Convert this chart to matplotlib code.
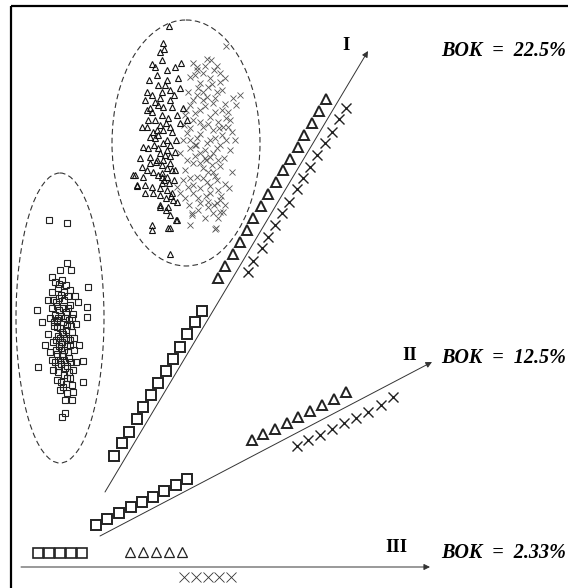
import matplotlib.pyplot as plt
from matplotlib.patches import Ellipse

# left cloud of squares
sq_cloud_x = [49, 67, 67, 52, 60, 71, 88, 37, 42, 87, 87, 38, 83, 83, 53, 63, 72, 62, 65, 57, 79, 45,
              55, 62, 58, 66, 70, 52, 61, 75, 48, 56, 64, 70, 78, 52, 59, 66, 73, 50, 57, 63, 69, 76,
              54, 60, 66, 72, 48, 58, 64, 70, 53, 61, 67, 74, 50, 57, 63, 69, 55, 61, 67, 73, 58, 64,
              70, 61, 65, 59, 68, 55, 62, 68, 60, 65, 76, 72, 60, 67, 56, 71, 63, 57, 74, 52, 66, 69,
              62, 58, 59, 64, 57, 68, 61, 54, 67, 63, 59, 66, 70, 56, 62, 71, 58, 64, 67, 61, 73, 65,
              53, 72, 60, 64]
sq_cloud_y = [220, 223, 263, 277, 270, 270, 287, 310, 322, 307, 317, 367, 361, 382, 370, 387, 400, 417, 413, 380, 345, 345,
              282, 280, 288, 285, 290, 292, 295, 296, 300, 302, 300, 305, 302, 308, 310, 312, 314, 318, 320, 322, 320, 324,
              326, 328, 330, 332, 334, 336, 338, 340, 342, 344, 346, 350, 352, 354, 356, 358, 362, 364, 366, 370, 372, 375,
              378, 348, 318, 298, 296, 315, 332, 352, 360, 368, 362, 385, 390, 393, 340, 326, 308, 327, 338, 360, 384, 372,
              342, 318, 284, 292, 306, 308, 316, 322, 325, 334, 346, 338, 345, 350, 356, 362, 366, 360, 378, 382, 392, 400,
              300, 318, 338, 350]

# upper cloud: triangles
tri_cloud_x = [169, 163, 160, 164, 152, 155, 167, 175, 181, 149, 178, 167, 165, 158, 170, 162, 180, 160, 155, 150,
               147, 152, 163, 172, 177, 142, 147, 157, 163, 172, 150, 155, 167, 143, 148, 158, 167, 175, 150, 157,
               163, 170, 142, 147, 153, 162, 167, 135, 143, 137, 145, 152, 162, 167, 145, 153, 160, 172, 173, 160,
               177, 152, 152, 168, 177, 162, 180, 183, 187, 170, 176, 170, 133, 137, 160, 168,
               158, 162, 168, 155, 160, 166, 170, 153, 158, 163, 170, 154, 160, 165, 170, 156, 162, 167, 172, 158,
               164, 169, 174, 160, 166, 171, 148, 145, 152, 170, 174, 157, 162, 147, 176, 175, 150, 140, 166, 170]
tri_cloud_y = [26, 43, 52, 49, 64, 67, 70, 67, 63, 80, 78, 80, 85, 85, 90, 92, 88, 98, 102, 108,
               110, 112, 107, 107, 115, 127, 127, 130, 130, 132, 137, 138, 140, 147, 148, 148, 150, 152, 157, 160,
               160, 163, 167, 170, 172, 173, 177, 175, 177, 185, 185, 187, 183, 190, 193, 193, 195, 193, 200, 205,
               220, 225, 230, 228, 202, 177, 123, 108, 120, 254, 220, 228, 175, 186, 207, 207,
               105, 115, 118, 120, 125, 123, 127, 132, 135, 143, 145, 145, 153, 155, 156, 162, 165, 168, 170, 175,
               180, 183, 180, 188, 198, 196, 120, 100, 95, 100, 95, 75, 60, 92, 140, 170, 163, 158, 210, 215]

# upper cloud: crosses
x_cloud_x = [226, 207, 193, 197, 203, 210, 220, 220, 190, 200, 208, 217, 240, 188, 197, 203, 213, 222, 190, 200,
             210, 218, 228, 232, 193, 203, 213, 222, 187, 197, 207, 217, 190, 200, 210, 218, 193, 203, 213, 185,
             197, 207, 217, 188, 200, 210, 218, 180, 193, 208, 217, 220, 213, 192, 198, 190, 215, 177, 183, 180,
             183, 215, 207, 197, 223, 220, 223, 208, 192, 216, 205, 195, 212, 226, 185, 230,
             195, 205, 214, 225, 212, 203, 193, 215, 225, 205, 195, 215, 228, 200, 208, 219, 190, 226, 200, 210,
             190, 220, 205, 195, 213, 224, 187, 200, 220, 208, 190, 215, 225, 203, 193, 210, 221, 185, 198, 206,
             214, 200, 225, 189, 218, 205, 233, 236, 230, 235, 198, 186, 184, 222, 211, 217, 229, 232, 196, 206]
x_cloud_y = [46, 59, 63, 70, 73, 78, 73, 82, 77, 83, 87, 92, 95, 92, 95, 100, 103, 110, 105, 110,
             117, 122, 127, 132, 120, 127, 130, 135, 133, 138, 143, 148, 148, 153, 157, 160, 163, 168, 172, 170,
             177, 182, 180, 187, 188, 193, 190, 193, 193, 202, 203, 212, 213, 213, 210, 225, 229, 187, 180, 153,
             140, 138, 97, 67, 127, 200, 212, 207, 215, 228, 158, 145, 165, 118, 115, 150,
             75, 66, 70, 78, 84, 92, 100, 98, 104, 106, 113, 112, 112, 122, 124, 128, 128, 140, 134, 140,
             140, 145, 150, 156, 153, 158, 160, 163, 166, 172, 178, 176, 184, 178, 185, 186, 196, 198, 198, 196,
             205, 203, 205, 205, 218, 218, 98, 105, 120, 140, 88, 110, 125, 90, 60, 66, 188, 172, 145, 160]

# branch I
sq1_x = [114, 122, 129, 137, 143, 151, 158, 166, 173, 180, 187, 195, 202]
sq1_y = [456, 443, 432, 419, 407, 395, 383, 371, 359, 347, 334, 322, 311]
tri1_x = [218, 225, 233, 240, 247, 253, 261, 268, 276, 283, 290, 298, 304, 312, 319, 326]
tri1_y = [278, 266, 254, 242, 230, 218, 206, 194, 182, 170, 159, 147, 135, 123, 111, 99]
x1_x = [248, 253, 262, 268, 275, 282, 289, 297, 303, 310, 317, 325, 332, 339, 346]
x1_y = [272, 261, 248, 237, 225, 213, 202, 189, 178, 167, 155, 143, 132, 119, 108]

# branch II
sq2_x = [96, 107, 119, 131, 142, 153, 164, 176, 187]
sq2_y = [525, 519, 513, 507, 502, 497, 491, 485, 479]
tri2_x = [252, 263, 275, 287, 298, 310, 322, 334, 346]
tri2_y = [440, 434, 429, 423, 417, 411, 405, 399, 392]
x2_x = [297, 308, 320, 332, 344, 356, 368, 381, 393]
x2_y = [446, 440, 435, 429, 423, 418, 412, 405, 397]

# branch III
sq3_x = [38, 49, 60, 71, 82]
sq3_y = [553, 553, 553, 553, 553]
tri3_x = [130, 143, 156, 169, 182]
tri3_y = [552, 552, 552, 552, 552]
x3_x = [184, 196, 208, 219, 231]
x3_y = [577, 577, 577, 577, 577]

labels = ['I', 'II', 'III']
bok = ['BOK  =  22.5%', 'BOK  =  12.5%', 'BOK  =  2.33%']

fig = plt.figure(figsize=(5.68, 5.88), dpi=100)
ax = fig.add_axes([0, 0, 1, 1])
ax.set_xlim(0, 568)
ax.set_ylim(588, 0)
ax.axis('off')

# frame (top and left only)
ax.plot([11, 568], [5.5, 5.5], color='k', lw=1.6, solid_capstyle='butt')
ax.plot([11, 11], [5.5, 588], color='k', lw=1.6, solid_capstyle='butt')

# dashed ellipses round the clouds
ax.add_patch(Ellipse((60, 318), 88, 290, fill=False, ls=(0, (5, 3)), lw=0.8, color='#333'))
ax.add_patch(Ellipse((186, 143), 148, 246, fill=False, ls=(0, (5, 3)), lw=0.8, color='#333'))

# clouds
ax.plot(sq_cloud_x, sq_cloud_y, 's', ms=4.5, mfc='none', mec='#222', mew=0.8)
ax.plot(x_cloud_x, x_cloud_y, 'x', ms=4.2, mec='#555', mew=0.6)
ax.plot(tri_cloud_x, tri_cloud_y, '^', ms=4.8, mfc='none', mec='#111', mew=0.8)

# arrows
arr = dict(arrowstyle='-|>', lw=0.7, color='#333', mutation_scale=9, shrinkA=0, shrinkB=0)
ax.annotate('', xy=(368, 51), xytext=(105, 492), arrowprops=arr)
ax.annotate('', xy=(432, 362), xytext=(100, 536), arrowprops=arr)
ax.annotate('', xy=(430, 567), xytext=(21, 567), arrowprops=arr)

# branch markers
ax.plot(sq1_x, sq1_y, 's', ms=6.8, mfc='none', mec='#222', mew=1.4)
ax.plot(tri1_x, tri1_y, '^', ms=7.5, mfc='none', mec='#222', mew=1.4)
ax.plot(x1_x, x1_y, 'x', ms=7.2, mec='#222', mew=1.0)
ax.plot(sq2_x, sq2_y, 's', ms=6.8, mfc='none', mec='#222', mew=1.4)
ax.plot(tri2_x, tri2_y, '^', ms=7.5, mfc='none', mec='#222', mew=1.4)
ax.plot(x2_x, x2_y, 'x', ms=7.2, mec='#222', mew=1.0)
ax.plot(sq3_x, sq3_y, 's', ms=7.4, mfc='none', mec='#222', mew=1.2)
ax.plot(tri3_x, tri3_y, '^', ms=7.5, mfc='none', mec='#222', mew=0.9)
ax.plot(x3_x, x3_y, 'x', ms=7.5, mec='#333', mew=0.6)

# labels
lab_pos = [(346, 46), (410, 355), (396, 547)]
bok_pos = [(441, 51), (441, 358), (441, 553)]
for t, (x, y) in zip(labels, lab_pos):
    ax.text(x, y, t, ha='center', va='center', fontsize=13.5, fontweight='bold',
            family='Liberation Serif')
for t, (x, y) in zip(bok, bok_pos):
    ax.text(x, y, t, ha='left', va='center', fontsize=14.5, fontweight='bold', style='italic',
            family='Liberation Serif')

fig.savefig('out.png', dpi=100)
